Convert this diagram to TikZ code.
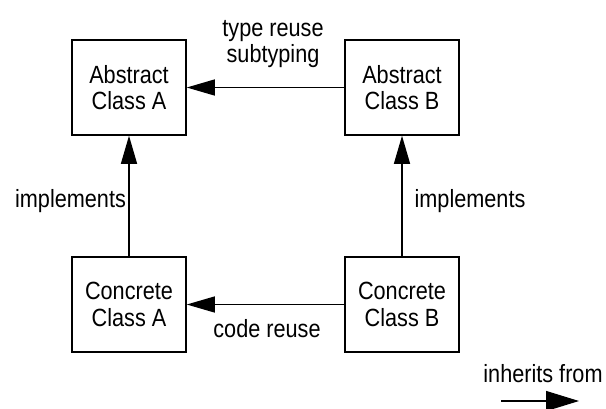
\documentclass[tikz,border=0pt]{standalone}
\usepackage{fontspec}
\setmainfont{Liberation Sans}[FakeStretch=0.87]
\usetikzlibrary{arrows.meta}
\tikzset{
  classbox/.style={draw, line width=1.5bp, minimum width=114bp, minimum height=95bp, align=center, inner sep=0pt},
  inh/.style={line width=1.3bp, -{Triangle[length=28bp,width=16bp]}}
}
\begin{document}
\begin{tikzpicture}[x=1bp,y=-1bp,font=\fontsize{25}{26.5}\selectfont]
        \useasboundingbox (0,0) rectangle (606,408);
        \node[classbox] (absA) at (129,87.5) {Abstract\\Class A};
        \node[classbox] (absB) at (402,87.5) {Abstract\\Class B};
        \node[classbox] (conA) at (129,304.5) {Concrete\\Class A};
        \node[classbox] (conB) at (402,304.5) {Concrete\\Class B};
        \draw[inh] (absB) -- (absA);
        \draw[inh] (conA) -- (absA);
        \draw[inh] (conB) -- (absB);
        \draw[inh] (conB) -- (conA);
        \node[align=center] (typereuse) at (273,44) {type reuse\\subtyping};
        \node[anchor=base] (implA) at (70.5,207) {implements};
        \node[anchor=base] (implB) at (470,207) {implements};
        \node[anchor=base] (codereuse) at (267,337) {code reuse};
        \node[anchor=base] (legend) at (543,382) {inherits from};
        \coordinate (legS) at (501,401);
        \coordinate (legE) at (579,401);
        \draw[line width=1.3bp, -{Triangle[length=33bp,width=20bp]}] (legS) -- (legE);
\end{tikzpicture}
\end{document}
